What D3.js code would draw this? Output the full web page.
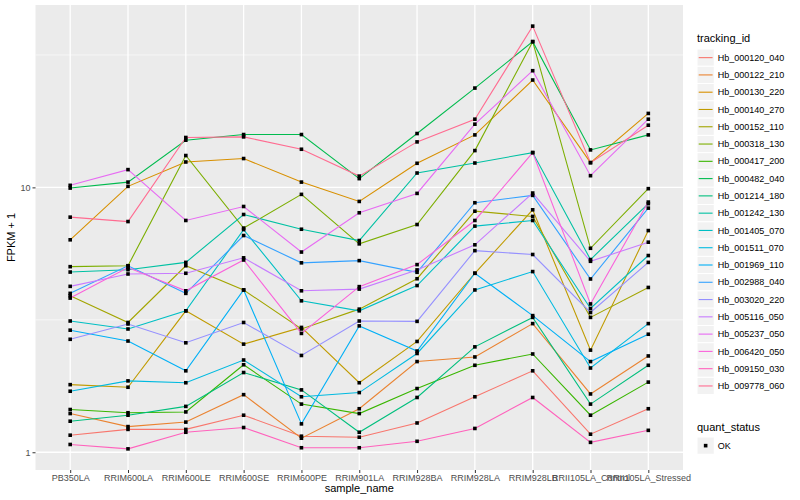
<!DOCTYPE html>
<html lang="en">
<head>
<meta charset="UTF-8">
<script src="https://d3js.org/d3.v7.min.js"></script>
<style>
  body { margin: 0; background: #fff; }
  text { font-family: "Liberation Sans", Arial, sans-serif; }
</style>
</head>
<body>
<div id="chart"></div>
<script>
const categories = ["PB350LA", "RRIM600LA", "RRIM600LE", "RRIM600SE", "RRIM600PE", "RRIM901LA",
  "RRIM928BA", "RRIM928LA", "RRIM928LB", "RRII105LA_Control", "RRII105LA_Stressed"];
const yTicks = [1, 10];
const yMinor = [3.162, 31.62];

// FPKM + 1 per sample, one array per tracking_id
const hb_000120_040 = [1.16, 1.22, 1.22, 1.38, 1.15, 1.14, 1.29, 1.62, 2.03, 1.17, 1.46];
const hb_000122_210 = [1.40, 1.25, 1.30, 1.65, 1.13, 1.46, 2.20, 2.29, 3.06, 1.66, 2.31];
const hb_000130_220 = [6.34, 10.09, 12.47, 12.85, 10.47, 8.85, 12.33, 15.78, 25.43, 12.40, 19.02];
const hb_000140_270 = [1.80, 1.76, 3.42, 2.56, 2.96, 1.83, 2.62, 4.74, 8.23, 2.43, 6.87];
const hb_000152_110 = [3.90, 3.09, 5.06, 4.10, 2.92, 3.47, 4.52, 8.13, 7.77, 3.23, 4.19];
const hb_000318_130 = [5.02, 5.06, 13.19, 7.02, 9.41, 6.12, 7.24, 13.77, 35.5, 5.89, 9.89];
const hb_000417_200 = [1.45, 1.41, 1.42, 2.14, 1.52, 1.40, 1.74, 2.13, 2.35, 1.38, 1.84];
const hb_000482_040 = [9.94, 10.47, 15.07, 15.83, 15.83, 10.79, 15.97, 23.71, 35.5, 13.85, 15.78];
const hb_001214_180 = [1.31, 1.38, 1.49, 2.00, 1.72, 1.19, 1.61, 2.50, 3.23, 1.52, 2.13];
const hb_001242_130 = [4.79, 4.89, 5.21, 7.90, 6.95, 6.30, 11.33, 12.36, 13.53, 5.34, 8.68];
const hb_001405_070 = [3.13, 2.92, 3.42, 6.93, 3.73, 3.42, 4.26, 7.14, 7.50, 3.49, 5.53];
const hb_001511_070 = [1.70, 1.86, 1.83, 2.23, 1.62, 1.68, 2.36, 4.10, 4.81, 2.08, 3.06];
const hb_001969_110 = [2.89, 2.63, 2.03, 4.10, 1.28, 3.00, 2.41, 4.74, 3.28, 2.20, 2.79];
const hb_002988_040 = [3.98, 5.06, 3.98, 6.58, 5.19, 5.29, 4.78, 8.75, 9.33, 4.51, 8.35];
const hb_003020_220 = [2.67, 3.05, 2.59, 3.09, 2.32, 3.13, 3.12, 5.77, 5.58, 3.37, 5.21];
const hb_005116_050 = [4.23, 4.71, 4.74, 5.42, 4.07, 4.13, 4.88, 6.07, 9.52, 5.26, 6.21];
const hb_005237_050 = [10.18, 11.67, 7.50, 8.47, 5.70, 8.02, 9.49, 17.32, 27.57, 11.07, 18.09];
const hb_006420_050 = [3.82, 4.98, 4.07, 5.32, 2.81, 4.22, 5.11, 7.50, 13.53, 3.63, 8.80];
const hb_009150_030 = [1.07, 1.03, 1.19, 1.24, 1.04, 1.04, 1.10, 1.23, 1.61, 1.09, 1.21];
const hb_009778_060 = [7.72, 7.43, 15.43, 15.51, 13.93, 11.03, 14.85, 18.09, 40.62, 12.40, 17.17];

const trackingIds = ["Hb_000120_040", "Hb_000122_210", "Hb_000130_220", "Hb_000140_270", "Hb_000152_110",
  "Hb_000318_130", "Hb_000417_200", "Hb_000482_040", "Hb_001214_180", "Hb_001242_130",
  "Hb_001405_070", "Hb_001511_070", "Hb_001969_110", "Hb_002988_040", "Hb_003020_220",
  "Hb_005116_050", "Hb_005237_050", "Hb_006420_050", "Hb_009150_030", "Hb_009778_060"];
const seriesValues = [hb_000120_040, hb_000122_210, hb_000130_220, hb_000140_270, hb_000152_110,
  hb_000318_130, hb_000417_200, hb_000482_040, hb_001214_180, hb_001242_130,
  hb_001405_070, hb_001511_070, hb_001969_110, hb_002988_040, hb_003020_220,
  hb_005116_050, hb_005237_050, hb_006420_050, hb_009150_030, hb_009778_060];
const palette = ["#F8766D", "#EA8331", "#D89000", "#C09B00", "#A3A500", "#7CAE00", "#39B600", "#00BB4E",
  "#00BF7D", "#00C1A3", "#00BFC4", "#00BAE0", "#00B0F6", "#35A2FF", "#9590FF", "#C77CFF",
  "#E76BF3", "#FA62DB", "#FF62BC", "#FF6C91"];
const quantStatus = ["OK"];

const W = 800, H = 500;
const margin = { top: 5, right: 117, bottom: 30, left: 35.5 };
const width = W - margin.left - margin.right;
const height = H - margin.top - margin.bottom;

const series = trackingIds.map((id, i) => ({
  id: id,
  color: palette[i],
  values: seriesValues[i].map((v, j) => ({ cat: categories[j], v: v }))
}));

const svg = d3.select("#chart").append("svg")
  .attr("width", W).attr("height", H);

const g = svg.append("g")
  .attr("transform", "translate(" + margin.left + "," + margin.top + ")");

// ggplot-like 5% expansion in log space
const all = seriesValues.flat();
const lo = Math.log10(d3.min(all)), hi = Math.log10(d3.max(all));
const pad = (hi - lo) * 0.05;
const y = d3.scaleLog().domain([Math.pow(10, lo - pad), Math.pow(10, hi + pad)]).range([height, 0]);
const x = d3.scalePoint().domain(categories).range([0, width]).padding(0.6);

g.append("rect").attr("width", width).attr("height", height).attr("fill", "#EBEBEB");

g.selectAll(".minor").data(yMinor).enter().append("line")
  .attr("x1", 0).attr("x2", width)
  .attr("y1", d => y(d)).attr("y2", d => y(d))
  .attr("stroke", "#fff").attr("stroke-width", 0.6);

g.selectAll(".hmajor").data(yTicks).enter().append("line")
  .attr("x1", 0).attr("x2", width)
  .attr("y1", d => y(d)).attr("y2", d => y(d))
  .attr("stroke", "#fff").attr("stroke-width", 1.3);

g.selectAll(".vmajor").data(categories).enter().append("line")
  .attr("x1", d => x(d)).attr("x2", d => x(d))
  .attr("y1", 0).attr("y2", height)
  .attr("stroke", "#fff").attr("stroke-width", 1.3);

const line = d3.line().x(d => x(d.cat)).y(d => y(d.v));

g.selectAll(".series").data(series).enter().append("path")
  .attr("d", d => line(d.values))
  .attr("fill", "none")
  .attr("stroke", d => d.color)
  .attr("stroke-width", 1.1);

const pts = series.flatMap(s => s.values);
g.selectAll(".pt").data(pts).enter().append("rect")
  .attr("x", d => x(d.cat) - 1.8).attr("y", d => y(d.v) - 1.8)
  .attr("width", 3.6).attr("height", 3.6)
  .attr("fill", "#000");

// axes
const yAxis = g.append("g")
  .call(d3.axisLeft(y).tickValues(yTicks).tickFormat(d3.format("d")).tickSize(3).tickPadding(2));
const xAxis = g.append("g")
  .attr("transform", "translate(0," + height + ")")
  .call(d3.axisBottom(x).tickSize(3).tickPadding(2));
[yAxis, xAxis].forEach(a => {
  a.select(".domain").remove();
  a.selectAll(".tick line").attr("stroke", "#333");
  a.selectAll(".tick text").attr("fill", "#4d4d4d").style("font-size", "9px")
    .style("font-family", "'Liberation Sans', Arial, sans-serif");
});

svg.append("text")
  .attr("x", margin.left + width / 2).attr("y", 492)
  .attr("text-anchor", "middle").style("font-size", "11px").text("sample_name");
svg.append("text")
  .attr("transform", "translate(15," + (margin.top + height / 2) + ") rotate(-90)")
  .attr("text-anchor", "middle").style("font-size", "11px").text("FPKM + 1");

// legend: tracking_id
const lx = 697, ly = 49, ks = 17.28;
svg.append("text").attr("x", lx).attr("y", 42).style("font-size", "11px").text("tracking_id");
const leg = svg.selectAll(".leg").data(series).enter().append("g")
  .attr("transform", (d, i) => "translate(" + lx + "," + (ly + i * ks) + ")");
leg.append("rect").attr("width", ks).attr("height", ks)
  .attr("fill", "#F2F2F2").attr("stroke", "#fff").attr("stroke-width", 1);
leg.append("line").attr("x1", 1.7).attr("x2", ks - 1.7)
  .attr("y1", ks / 2).attr("y2", ks / 2)
  .attr("stroke", d => d.color).attr("stroke-width", 1.1);
leg.append("text").attr("x", ks + 3.5).attr("y", ks / 2).attr("dy", "0.35em")
  .style("font-size", "9px").text(d => d.id);

// legend: quant_status
svg.append("text").attr("x", lx).attr("y", 431).style("font-size", "11px").text("quant_status");
const q = svg.selectAll(".qleg").data(quantStatus).enter().append("g")
  .attr("transform", "translate(" + lx + ",437)");
q.append("rect").attr("width", ks).attr("height", ks)
  .attr("fill", "#F2F2F2").attr("stroke", "#fff");
q.append("rect").attr("x", ks / 2 - 1.8).attr("y", ks / 2 - 1.8)
  .attr("width", 3.6).attr("height", 3.6).attr("fill", "#000");
q.append("text").attr("x", ks + 3.5).attr("y", ks / 2).attr("dy", "0.35em")
  .style("font-size", "9px").text(d => d);
</script>
</body>
</html>
